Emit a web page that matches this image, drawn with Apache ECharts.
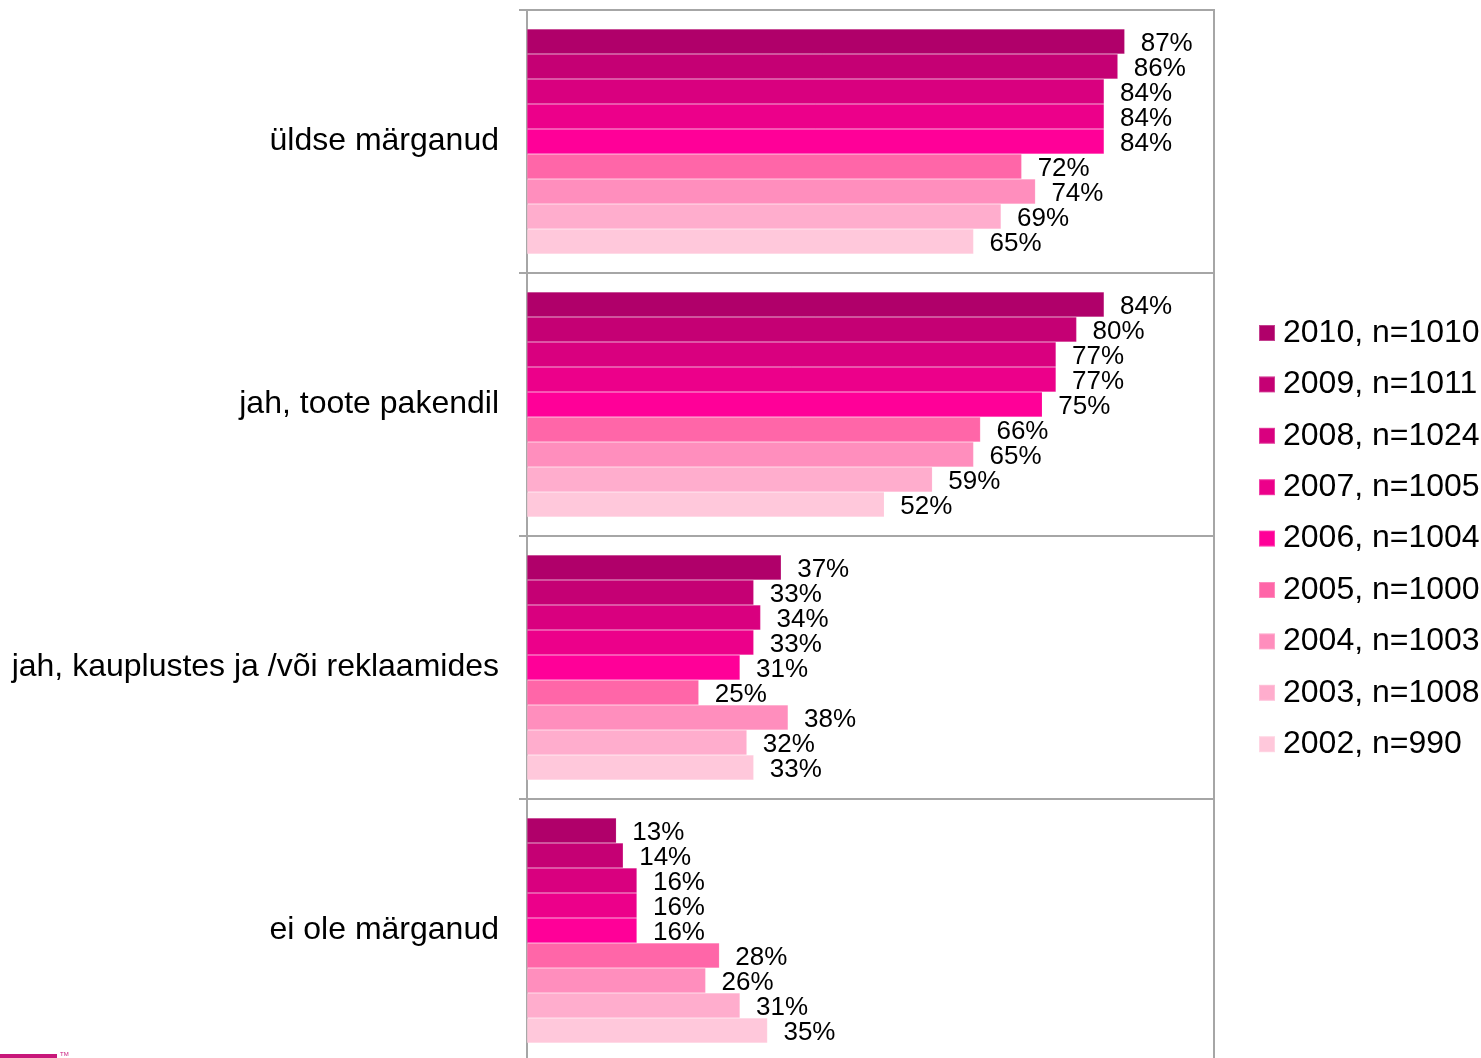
<!DOCTYPE html>
<html>
<head>
<meta charset="utf-8">
<script src="https://cdn.jsdelivr.net/npm/echarts@6/dist/echarts.min.js"></script>
<style>html,body{margin:0;padding:0;background:#fff;overflow:hidden}#c{width:1481px;height:1072px}</style>
</head>
<body>
<div id="c"></div>
<script>
var categories = ['üldse märganud', 'jah, toote pakendil', 'jah, kauplustes ja /või reklaamides', 'ei ole märganud'];
var seriesNames = ['2010, n=1010', '2009, n=1011', '2008, n=1024', '2007, n=1005', '2006, n=1004', '2005, n=1000', '2004, n=1003', '2003, n=1008', '2002, n=990'];
var colors = ['#B0006A', '#C50074', '#D9007F', '#EC008A', '#FF0098', '#FF66A8', '#FF8EBD', '#FFADCD', '#FFC8DB'];
var v2010 = [87, 84, 37, 13];
var v2009 = [86, 80, 33, 14];
var v2008 = [84, 77, 34, 16];
var v2007 = [84, 77, 33, 16];
var v2006 = [84, 75, 31, 16];
var v2005 = [72, 66, 25, 28];
var v2004 = [74, 65, 38, 26];
var v2003 = [69, 59, 32, 31];
var v2002 = [65, 52, 33, 35];
var values = [v2010, v2009, v2008, v2007, v2006, v2005, v2004, v2003, v2002];

var FONT = 'Arial, "Liberation Sans", sans-serif';
var series = seriesNames.map(function (name, i) {
  return {
    name: name,
    type: 'bar',
    data: values[i],
    barWidth: 25,
    barGap: '0%',
    itemStyle: { color: colors[i], borderColor: 'rgba(255,255,255,0.25)', borderWidth: 0.5 },
    label: {
      show: true,
      position: 'right',
      distance: 16,
      offset: [0, 2],
      formatter: '{c}%',
      color: '#000',
      fontSize: 26,
      fontFamily: FONT
    }
  };
});

var chart = echarts.init(document.getElementById('c'), null, { renderer: 'canvas' });
chart.setOption({
  animation: false,
  backgroundColor: '#fff',
  color: colors,
  grid: {
    left: 527, top: 10, width: 687, height: 1052,
    show: true, borderColor: '#A6A6A6', borderWidth: 2, backgroundColor: 'transparent',
    containLabel: false
  },
  legend: {
    orient: 'vertical',
    left: 1253,
    top: 312,
    icon: 'rect',
    itemWidth: 16,
    itemHeight: 16,
    itemGap: 19.4,
    textStyle: { fontSize: 32, fontFamily: FONT, color: '#000', lineHeight: 30, padding: [0, 0, 0, 3] },
    data: seriesNames
  },
  xAxis: {
    type: 'value',
    min: 0,
    max: 100,
    show: false
  },
  yAxis: {
    type: 'category',
    inverse: true,
    data: categories,
    axisLine: { show: true, lineStyle: { color: '#A6A6A6', width: 2 } },
    axisTick: { show: true, length: 8, lineStyle: { color: '#A6A6A6', width: 2 } },
    splitLine: { show: true, lineStyle: { color: '#A6A6A6', width: 2 } },
    axisLabel: { fontSize: 32, fontFamily: FONT, color: '#000', margin: 28, padding: [4, 0, 0, 0] }
  },
  graphic: [
    { type: 'rect', left: 0, top: 1054, shape: { width: 57, height: 4 }, style: { fill: '#C8177A' } },
    { type: 'text', left: 60, top: 1051, style: { text: 'TM', fontSize: 6, fill: '#C8177A' } }
  ],
  series: series
});
</script>
</body>
</html>
